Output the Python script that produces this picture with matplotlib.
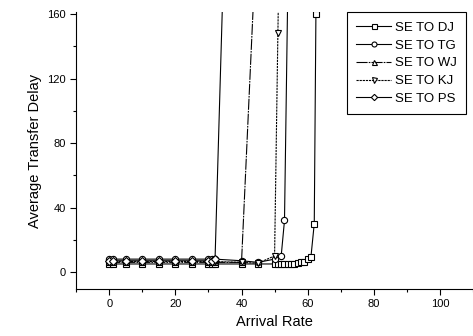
import matplotlib
matplotlib.use('Agg')
import matplotlib.pyplot as plt
from matplotlib.ticker import MultipleLocator

plt.rcParams['font.family'] = ['Liberation Sans', 'DejaVu Sans']

# data (points above 160 run off the top)
dj_x = [0, 1, 5, 10, 15, 20, 25, 30, 31, 32, 40, 45, 50, 51, 52, 53, 54, 55, 56, 57, 58, 59, 60, 61, 62, 62.5]
dj_y = [5, 5, 5, 5, 5, 5, 5, 5, 5, 5, 5, 5, 5, 5, 5, 5, 5, 5, 5, 5.5, 6, 6.5, 8, 9.5, 30, 160]
tg_x = [0, 1, 5, 10, 15, 20, 25, 30, 31, 32, 40, 45, 50, 52, 53, 55]
tg_y = [8, 8, 8, 8, 8, 8, 8, 8, 8, 8, 7, 6, 8, 10, 32, 320]
wj_x = [0, 1, 5, 10, 15, 20, 25, 30, 31, 32, 40, 45]
wj_y = [6, 6, 6, 6, 6, 6, 6, 6, 6, 6, 6, 230]
kj_x = [0, 1, 5, 10, 15, 20, 25, 30, 31, 32, 40, 45, 50, 51, 52]
kj_y = [6.5, 6.5, 6.5, 6.5, 6.5, 6.5, 6.5, 6.5, 6.5, 6.5, 6, 5.5, 10, 148, 280]
ps_x = [0, 1, 5, 10, 15, 20, 25, 30, 31, 32, 35]
ps_y = [7, 7, 7, 7, 7, 7, 7, 7, 7, 8, 220]

fig = plt.figure(figsize=(4.73, 3.36), dpi=100)
ax = fig.add_axes([0.161, 0.14, 0.839, 0.823])

kw = dict(color='black', lw=0.8, mfc='white', mec='black', mew=0.8)
ax.plot(dj_x, dj_y, marker='s', ms=4.5, ls='-', label='SE TO DJ', **kw)
ax.plot(tg_x, tg_y, marker='o', ms=4.5, ls='-', label='SE TO TG', **kw)
ax.plot(wj_x, wj_y, marker='^', ms=4.5, ls=(0, (10, 1, 1.5, 1)), label='SE TO WJ', **kw)
ax.plot(kj_x, kj_y, marker='v', ms=4.5, ls=(0, (2, 0.8)), label='SE TO KJ', **kw)
ax.plot(ps_x, ps_y, marker='D', ms=4, ls='-', label='SE TO PS', **kw)

ax.set_xlim(-10, 110)
ax.set_ylim(-10.5, 161)
ax.spines['top'].set_visible(False)
ax.spines['right'].set_visible(False)
ax.xaxis.set_major_locator(MultipleLocator(20))
ax.xaxis.set_minor_locator(MultipleLocator(10))
ax.yaxis.set_major_locator(MultipleLocator(40))
ax.yaxis.set_minor_locator(MultipleLocator(20))
ax.tick_params(direction='out', labelsize=8, length=4, width=0.8)
ax.tick_params(which='minor', direction='out', length=2.5, width=0.8)
ax.set_xlabel('Arrival Rate', fontsize=10.5)
ax.set_ylabel('Average Transfer Delay', fontsize=10.5)

leg = ax.legend(loc='upper right', bbox_to_anchor=(0.982, 1.0), borderaxespad=0, fontsize=9.5,
                fancybox=False, edgecolor='black', framealpha=1, handlelength=2.6,
                borderpad=0.7, labelspacing=0.42, handletextpad=0.3, markerscale=0.8)
leg.get_frame().set_linewidth(0.8)

fig.savefig('out.png', dpi=100)
